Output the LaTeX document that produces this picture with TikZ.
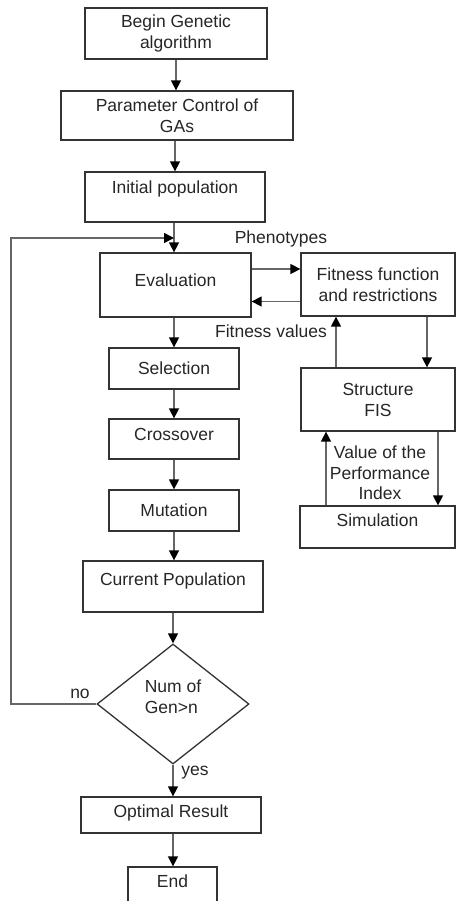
\documentclass[tikz,border=0pt]{standalone}
\usepackage{fontspec}
\setmainfont{Liberation Sans}
\usetikzlibrary{arrows.meta,shapes.geometric}
\tikzset{
  box/.style={draw=black!80, line width=1.3pt, align=center, text=black!85,
    font=\fontsize{17.5}{21}\selectfont, inner sep=2pt},
  decision/.style={box, diamond, minimum width=152pt, minimum height=120pt, align=left},
  lbl/.style={font=\fontsize{17.5}{20.5}\selectfont, text=black!85, inner sep=0pt, align=center},
  flow/.style={color=black!60, line width=1.5pt,
    -{Triangle[length=10pt,width=10pt,color=black]}},
}
\begin{document}
\begin{tikzpicture}[x=1pt,y=-1pt]
      \useasboundingbox (0,0) rectangle (456,901);
      \clip (0,0) rectangle (456,901);
      \path
        (176,33.5) node[box,minimum width=182pt,minimum height=51pt] (begin){Begin Genetic\\algorithm}
        (177,115.5) node[box,minimum width=232pt,minimum height=49pt] (param){Parameter Control of\\GAs}
        (175,197) node[box,minimum width=180pt,minimum height=50pt,text depth=19pt] (init){Initial population}
        (175.5,285) node[box,minimum width=151pt,minimum height=64pt,text depth=9pt] (eval){Evaluation}
        (378,284.5) node[box,minimum width=154pt,minimum height=63pt] (fit){Fitness function\\and restrictions}
        (174,368.5) node[box,minimum width=130pt,minimum height=41pt] (sel){Selection}
        (174,439) node[box,minimum width=130pt,minimum height=40pt,text depth=9pt] (cross){Crossover}
        (174,510.5) node[box,minimum width=130pt,minimum height=41pt] (mut){Mutation}
        (173,586.5) node[box,minimum width=180pt,minimum height=51pt,text depth=15pt] (curr){Current Population}
        (378,399.5) node[box,minimum width=154pt,minimum height=63pt] (struct){Structure\\FIS}
        (377.5,527) node[box,minimum width=155pt,minimum height=42pt,text depth=14pt] (sim){Simulation}
        (173,704) node[decision,text depth=14pt] (cond){Num of\\Gen>n}
        (171,815) node[box,minimum width=180pt,minimum height=36pt,text depth=7pt] (opt){Optimal Result}
        (172.5,885) node[box,minimum width=89pt,minimum height=36pt,text depth=7pt] (end){End};
      \path
        (281,239) node[lbl] (pheno){Phenotypes}
        (271,331) node[lbl] (fitval){Fitness values}
        (380,473) node[lbl] (perf){Value of the\\Performance\\Index}
        (80,694) node[lbl] (no){no}
        (195,773) node[lbl] (yes){yes};
      \coordinate (merge) at (174,238);
      \coordinate (loopcorner) at (11,238);
      \begin{scope}[flow]
        \draw (begin.south) -- (begin.south |- param.north);
        \draw (init.north |- param.south) -- (init.north);
        \draw (init.south -| merge) -- (merge |- eval.north);
        \draw (cond.west) -| (loopcorner) -- (merge);
        \draw (sel.north |- eval.south) -- (sel.north);
        \draw (sel.south) -- (cross.north);
        \draw (cross.south) -- (mut.north);
        \draw (mut.south) -- (mut.south |- curr.north);
        \draw (curr.south) -- (cond.north);
        \draw (cond.south) -- (cond.south |- opt.north);
        \draw (cond.south |- opt.south) -- (cond.south |- end.north);
        \draw ([yshift=16pt]eval.east) -- ([yshift=16pt]eval.east -| fit.west);
        \draw ([yshift=-17pt]fit.west) -- ([yshift=-17pt]fit.west -| eval.east);
        \draw ([xshift=-42pt]struct.north) -- ([xshift=-42pt]struct.north |- fit.south);
        \draw ([xshift=49pt]fit.south) -- ([xshift=49pt]fit.south |- struct.north);
        \draw ([xshift=-51.5pt]sim.north) -- ([xshift=-51.5pt]sim.north |- struct.south);
        \draw ([xshift=60pt]struct.south) -- ([xshift=60pt]struct.south |- sim.north);
      \end{scope}
    \end{tikzpicture}
\end{document}
